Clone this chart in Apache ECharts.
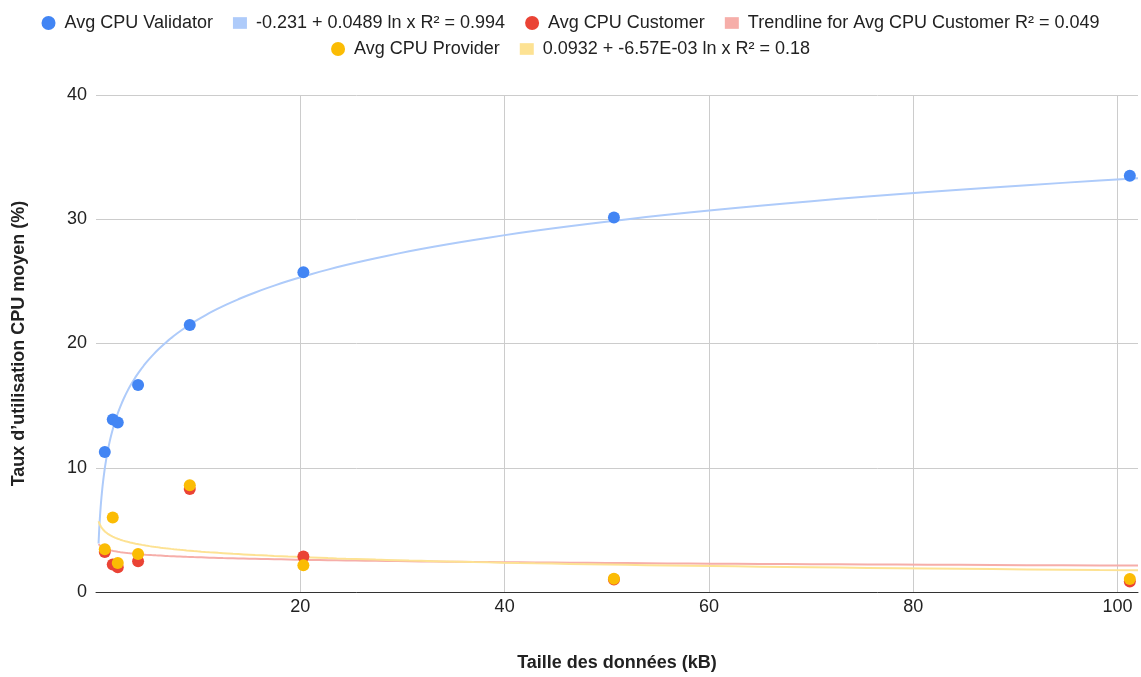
<!DOCTYPE html>
<html>
<head>
<meta charset="utf-8">
<script src="https://cdn.jsdelivr.net/npm/echarts@6/dist/echarts.min.js"></script>
<style>
  html, body { margin: 0; padding: 0; background: #fff; }
  #chart { width: 1141px; height: 677px; }
</style>
</head>
<body>
<div id="chart"></div>
<script>
// data sizes (kB) and average CPU usage (%)
const sizeKB = [0.86, 1.64, 2.13, 4.12, 9.18, 20.3, 50.7, 101.2];
const cpuValidator = [11.26, 13.88, 13.65, 16.66, 21.49, 25.73, 30.14, 33.5];
const cpuCustomer = [3.22, 2.21, 2.0, 2.48, 8.29, 2.85, 1.0, 0.85];
const cpuProvider = [3.44, 6.0, 2.34, 3.06, 8.6, 2.16, 1.07, 1.04];

// log trendlines y = a + b ln(x), x in bytes, y as a fraction
const trendValidator = [-0.231, 0.0489];
const trendCustomer = [0.0544, -0.00287];
const trendProvider = [0.0932, -6.57e-3];
const trendRange = [0.25, 102];

const xTicks = [20, 40, 60, 80, 100];
const yTicks = [0, 10, 20, 30, 40];

const names = [
  'Avg CPU Validator',
  '-0.231 + 0.0489 ln x R\u00b2 = 0.994',
  'Avg CPU Customer',
  'Trendline for Avg CPU Customer R\u00b2 = 0.049',
  'Avg CPU Provider',
  '0.0932 + -6.57E-03 ln x R\u00b2 = 0.18'
];

const pts = ys => sizeKB.map((x, i) => [x, ys[i]]);

// sample the trendline along the x range (log spaced so the steep start is smooth)
const trend = coef => {
  const out = [];
  const n = 160;
  const l0 = Math.log(trendRange[0]), l1 = Math.log(trendRange[1]);
  for (let i = 0; i <= n; i++) {
    const x = Math.exp(l0 + (l1 - l0) * i / n);
    out.push([x, 100 * (coef[0] + coef[1] * Math.log(x * 1000))]);
  }
  return out;
};

const chart = echarts.init(document.getElementById('chart'));
const font = 'Arial, "Liberation Sans", sans-serif';

const trendLine = (name, coef, color) => ({
  name: name,
  type: 'line',
  data: trend(coef),
  showSymbol: false,
  symbol: 'none',
  lineStyle: { width: 2, color: color },
  itemStyle: { color: color },
  z: 1,
  silent: true
});
const dots = (name, ys, color, z) => ({
  name: name,
  type: 'scatter',
  data: pts(ys),
  symbolSize: 12,
  itemStyle: { color: color, opacity: 1 },
  z: z
});

const legendBase = {
  left: 'center',
  itemWidth: 14,
  itemHeight: 14,
  itemGap: 20,
  textStyle: { fontSize: 18, color: '#222', fontFamily: font, padding: [0, 0, 0, 4] }
};
const trendIcon = 'path://M0,1 L12,1 L12,11 L0,11 Z';

chart.setOption({
  animation: false,
  textStyle: { fontFamily: font },
  legend: [
    Object.assign({}, legendBase, {
      top: 9,
      data: [
        { name: names[0], icon: 'circle' },
        { name: names[1], icon: trendIcon, itemStyle: { color: '#aecbfa' } },
        { name: names[2], icon: 'circle' },
        { name: names[3], icon: trendIcon, itemStyle: { color: '#f6aea9' } }
      ]
    }),
    Object.assign({}, legendBase, {
      top: 35,
      data: [
        { name: names[4], icon: 'circle' },
        { name: names[5], icon: trendIcon, itemStyle: { color: '#fde293' } }
      ]
    })
  ],
  grid: { left: 96, right: 3, top: 95, bottom: 81, containLabel: false },
  xAxis: {
    type: 'value',
    min: 0,
    max: 102,
    interval: 20,
    name: 'Taille des donn\u00e9es (kB)',
    nameLocation: 'middle',
    nameGap: 62,
    nameTextStyle: { fontSize: 18, fontWeight: 'bold', color: '#222' },
    axisLine: { show: true, onZero: false, lineStyle: { color: '#333', width: 1 } },
    axisTick: { show: false },
    axisLabel: {
      fontSize: 18, color: '#222', margin: 6,
      showMinLabel: false, showMaxLabel: false,
      formatter: v => (xTicks.indexOf(v) >= 0 ? String(v) : '')
    },
    splitLine: { show: true, showMinLine: false, showMaxLine: false, lineStyle: { color: '#cccccc', width: 1 } }
  },
  yAxis: {
    type: 'value',
    min: 0,
    max: 40,
    interval: 10,
    name: 'Taux d\u2019utilisation CPU moyen (%)',
    nameLocation: 'middle',
    nameGap: 68,
    nameTextStyle: { fontSize: 18, fontWeight: 'bold', color: '#222' },
    axisLine: { show: false },
    axisTick: { show: false },
    axisLabel: {
      fontSize: 18, color: '#222', margin: 9,
      formatter: v => (yTicks.indexOf(v) >= 0 ? String(v) : '')
    },
    splitLine: { show: true, lineStyle: { color: '#cccccc', width: 1 } }
  },
  series: [
    dots(names[0], cpuValidator, '#4285f4', 5),
    trendLine(names[1], trendValidator, '#aecbfa'),
    dots(names[2], cpuCustomer, '#ea4335', 4),
    trendLine(names[3], trendCustomer, '#f6aea9'),
    dots(names[4], cpuProvider, '#fbbc04', 6),
    trendLine(names[5], trendProvider, '#fde293')
  ]
});
</script>
</body>
</html>
